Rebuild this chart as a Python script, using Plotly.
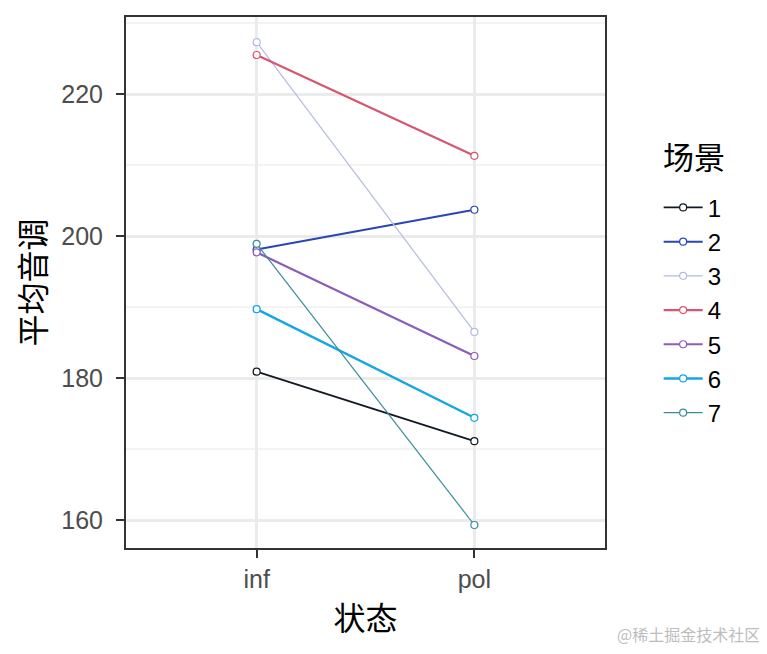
import plotly.graph_objects as go

states = ["inf", "pol"]
scenes = ["1", "2", "3", "4", "5", "6", "7"]
inf_vals = [180.9, 198.1, 227.3, 225.5, 197.7, 189.7, 198.9]
pol_vals = [171.1, 203.7, 186.5, 211.3, 183.1, 174.4, 159.3]
colors = ["#111a24", "#2847b4", "#b3bbe6", "#d6566f", "#8b5cb8", "#12a6e4", "#3a8c9e"]
widths = [1.8, 2.0, 1.2, 2.2, 2.2, 2.4, 1.2]
legend_title = "场景"

fig = go.Figure()
for i, s in enumerate(scenes):
    fig.add_trace(go.Scatter(
        x=[1, 2], y=[inf_vals[i], pol_vals[i]], mode="lines+markers", name=s,
        line=dict(color=colors[i], width=widths[i]),
        marker=dict(symbol="circle", size=7, color="white",
                    line=dict(color=colors[i], width=1.2)),
    ))

fig.update_layout(
    width=759, height=646,
    margin=dict(l=118, r=162, t=9, b=106, autoexpand=False),
    paper_bgcolor="white", plot_bgcolor="white",
    font=dict(family="Liberation Sans, Arial, sans-serif", color="#4d4d4d"),
    showlegend=True,
    legend=dict(
        font=dict(size=24, color="black"),
        x=1.112, xanchor="left", y=0.683, yanchor="top",
        tracegroupgap=0, itemwidth=39,
    ),
    xaxis=dict(
        range=[0.4, 2.6], tickmode="array", tickvals=[1, 2], ticktext=states,
        showgrid=True, gridcolor="#ebebeb", gridwidth=3,
        ticks="outside", ticklen=8, tickcolor="#333333", tickwidth=2,
        tickfont=dict(size=25, color="#4d4d4d"), ticklabelstandoff=0,
        title=dict(text="状态", font=dict(size=32, color="black", family="Noto Sans CJK SC"), standoff=16),
        showline=True, linecolor="#333333", linewidth=2, mirror=True, zeroline=False,
    ),
    yaxis=dict(
        range=[156.06, 230.85], tickvals=[160, 180, 200, 220],
        showgrid=True, gridcolor="#ebebeb", gridwidth=3,
        minor=dict(tickvals=[170, 190, 210, 230], showgrid=True, gridcolor="#f3f3f3", gridwidth=1.5),
        ticks="outside", ticklen=8, tickcolor="#333333", tickwidth=2,
        tickfont=dict(size=25, color="#4d4d4d"), ticklabelstandoff=8,
        title=dict(text="平均音调", font=dict(size=32, color="black", family="Noto Sans CJK SC"), standoff=12),
        showline=True, linecolor="#333333", linewidth=2, mirror=True, zeroline=False,
    ),
)

fig.add_annotation(text=legend_title, xref="paper", yref="paper",
                   x=1.0, y=1.0, xanchor="left", yanchor="middle",
                   xshift=56, yshift=-138, showarrow=False,
                   font=dict(size=31, color="black", family="Noto Sans CJK SC"))

fig.add_annotation(text="@稀土掘金技术社区", xref="paper", yref="paper",
                   x=1.0, y=0, xanchor="right", yanchor="bottom",
                   xshift=157, yshift=-100, showarrow=False,
                   font=dict(size=16, color="#bdbdbd", family="Noto Sans CJK SC"))

fig.write_html("out.html")
